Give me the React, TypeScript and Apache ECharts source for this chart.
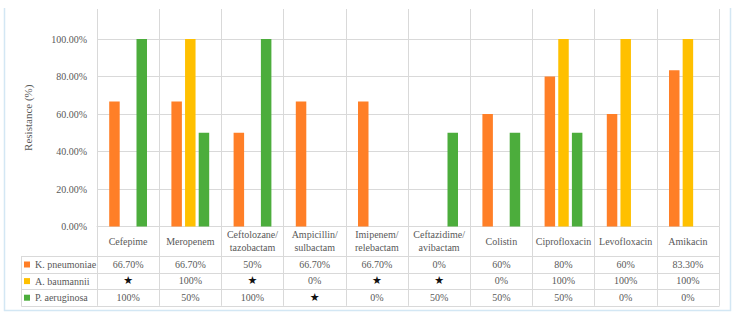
import React, { useEffect, useRef } from "react";
import * as echarts from "echarts";

// Antibiotics along the x axis (line breaks as printed in the table header)
const categories = [
  "Cefepime",
  "Meropenem",
  "Ceftolozane/\ntazobactam",
  "Ampicillin/\nsulbactam",
  "Imipenem/\nrelebactam",
  "Ceftazidime/\navibactam",
  "Colistin",
  "Ciprofloxacin",
  "Levofloxacin",
  "Amikacin",
];

const seriesNames = ["K. pneumoniae", "A. baumannii", "P. aeruginosa"];

// Resistance in percent; null = not tested (shown as a star)
const kPneumoniae = [66.7, 66.7, 50, 66.7, 66.7, 0, 60, 80, 60, 83.3];
const aBaumannii = [null, 100, null, 0, null, null, 0, 100, 100, 100];
const pAeruginosa = [100, 50, 100, null, 0, 50, 50, 50, 0, 0];

const yTicks = [0, 20, 40, 60, 80, 100];

const colors = ["#FF7F27", "#FFC000", "#4CAD3C"];

const FONT = "Liberation Serif";
const GRID_COLOR = "#d9d9d9";
const TEXT_COLOR = "#595959";

// layout of the plot and the data table under it
const PLOT_LEFT = 97;
const PLOT_RIGHT = 719;
const PLOT_TOP = 9;
const PLOT_BOTTOM = 226.5;
const HEADER_BOTTOM = 256;
const ROW_H = 16.6;
const TABLE_LEFT = 21.5;

const fmt = (v: number | null) => {
  if (v === null) return "{s|★}";
  return Number.isInteger(v) ? `${v}%` : `${v.toFixed(2)}%`;
};

export default function App() {
  const ref = useRef<HTMLDivElement>(null);

  useEffect(() => {
    if (!ref.current) return;
    const chart = echarts.init(ref.current, null, { renderer: "svg" });
    const rows = [kPneumoniae, aBaumannii, pAeruginosa];
    const tableBottom = HEADER_BOTTOM + ROW_H * 3;

    const rowAxes = rows.map((row, r) => ({
      type: "category" as const,
      gridIndex: 0,
      position: "bottom" as const,
      data: categories,
      axisLine: { show: false },
      axisTick: { show: false },
      splitLine: { show: false },
      axisLabel: {
        interval: 0,
        margin: HEADER_BOTTOM + ROW_H * (r + 0.5) - PLOT_BOTTOM,
        verticalAlign: "middle" as const,
        fontFamily: FONT,
        fontSize: 10,
        color: TEXT_COLOR,
        formatter: (_v: string, i: number) => fmt(row[i]),
        rich: {
          s: { fontFamily: "DejaVu Sans", fontSize: 11, color: "#111" },
        },
      },
    }));

    const hLines = [0, 1, 2, 3].map((k) => {
      const y = Math.round(HEADER_BOTTOM + ROW_H * k) + 0.5;
      return {
        type: "line",
        shape: { x1: TABLE_LEFT, y1: y, x2: PLOT_RIGHT + 0.5, y2: y },
        style: { stroke: GRID_COLOR, lineWidth: 1 },
        silent: true,
      };
    });

    const frameColor = "#d3e7f4";

    chart.setOption({
      animation: false,
      backgroundColor: "#ffffff",
      color: colors,
      textStyle: { fontFamily: FONT },
      grid: {
        left: PLOT_LEFT,
        right: 735 - PLOT_RIGHT,
        top: PLOT_TOP,
        bottom: 316 - PLOT_BOTTOM,
        containLabel: false,
      },
      legend: {
        data: seriesNames,
        orient: "vertical",
        left: 24,
        top: HEADER_BOTTOM + 2.5,
        padding: 0,
        itemWidth: 6,
        itemHeight: 6,
        itemGap: ROW_H - 12,
        icon: "rect",
        selectedMode: false,
        textStyle: {
          fontFamily: FONT,
          fontSize: 10,
          lineHeight: 12,
          color: TEXT_COLOR,
        },
      },
      xAxis: [
        {
          type: "category",
          data: categories,
          boundaryGap: true,
          axisLine: { show: true, lineStyle: { color: GRID_COLOR } },
          axisTick: {
            show: true,
            interval: 0,
            length: tableBottom - PLOT_BOTTOM,
            lineStyle: { color: GRID_COLOR },
          },
          splitLine: {
            show: true,
            interval: 0,
            lineStyle: { color: GRID_COLOR },
          },
          axisLabel: {
            interval: 0,
            margin: (HEADER_BOTTOM - PLOT_BOTTOM) / 2,
            verticalAlign: "middle",
            fontFamily: FONT,
            fontSize: 10,
            lineHeight: 13,
            color: TEXT_COLOR,
          },
        },
        ...rowAxes,
      ],
      yAxis: {
        type: "value",
        min: 0,
        max: 116,
        interval: 20,
        name: "Resistance (%)",
        nameLocation: "middle",
        nameGap: 64,
        nameRotate: 90,
        nameTextStyle: { fontFamily: FONT, fontSize: 11, color: TEXT_COLOR },
        axisLine: { show: false },
        axisTick: { show: false },
        splitLine: {
          show: true,
          lineStyle: {
            color: [...yTicks.map(() => GRID_COLOR), "rgba(0,0,0,0)"],
          },
        },
        axisLabel: {
          margin: 10,
          showMaxLabel: false,
          fontFamily: FONT,
          fontSize: 10,
          color: TEXT_COLOR,
          formatter: (v: number) =>
            yTicks.includes(v) ? `${v.toFixed(2)}%` : "",
        },
      },
      series: rows.map((row, i) => ({
        name: seriesNames[i],
        type: "bar",
        xAxisIndex: 0,
        data: row,
        barWidth: 10.5,
        barGap: "30%",
        itemStyle: { color: colors[i] },
      })),
      graphic: [
        ...hLines,
        {
          type: "line",
          shape: {
            x1: TABLE_LEFT,
            y1: HEADER_BOTTOM,
            x2: TABLE_LEFT,
            y2: Math.round(tableBottom) + 0.5,
          },
          style: { stroke: GRID_COLOR, lineWidth: 1 },
          silent: true,
        },
        // chart frame
        {
          type: "polyline",
          shape: {
            points: [
              [4.5, 8],
              [4.5, 310.5],
              [730.5, 310.5],
              [730.5, 8],
            ],
          },
          style: { stroke: frameColor, fill: "none", lineWidth: 1.5 },
          silent: true,
        },
      ],
    });

    return () => chart.dispose();
  }, []);

  return (
    <div
      ref={ref}
      style={{ position: "fixed", left: 0, top: 0, width: 735, height: 316 }}
    />
  );
}
